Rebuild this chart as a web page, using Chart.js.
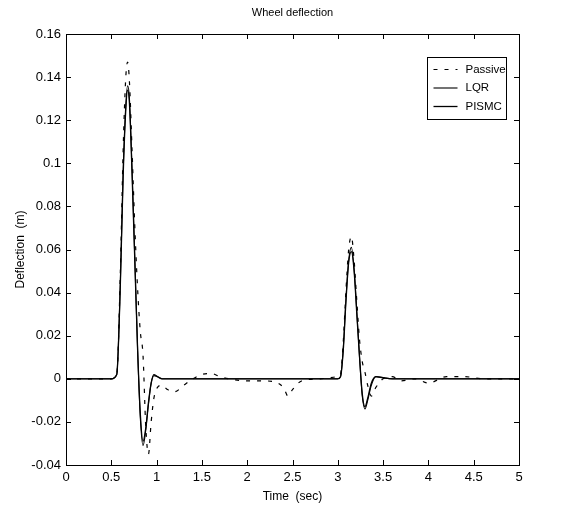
<!DOCTYPE html>
<html>
<head>
<meta charset="utf-8">
<script src="https://cdn.jsdelivr.net/npm/chart.js@4.4.0/dist/chart.umd.min.js"></script>
<style>
  html, body { margin: 0; padding: 0; background: #fff; }
  #wrap { width: 566px; height: 511px; }
</style>
</head>
<body>
<div id="wrap"><canvas id="grafico" width="566" height="511"></canvas></div>
<script>
// tempo (s)
var tempo = [0, 0.5, 0.56, 0.6, 0.63, 0.66, 0.68, 0.7, 0.73, 0.76, 0.79, 0.82, 0.85, 0.88, 0.91, 0.94, 0.97, 1.01, 1.06, 1.12,
  1.2, 1.3, 1.4, 1.5, 1.6, 1.7, 1.8, 2.0, 2.2, 2.4, 2.45, 2.5, 2.6, 2.8,
  3.0, 3.03, 3.06, 3.09, 3.12, 3.15, 3.18, 3.21, 3.24, 3.27, 3.3, 3.33, 3.37, 3.42, 3.5,
  3.6, 3.7, 3.85, 4.0, 4.2, 4.4, 4.6, 4.8, 5.0];

// deflexao da roda (m)
var passivo = [0, 0, 0.002, 0.05, 0.105, 0.14, 0.147, 0.138, 0.105, 0.07, 0.042, 0.022, 0.011, -0.022, -0.035, -0.02, -0.009, -0.004, -0.003, -0.005,
  -0.006, -0.003, 0, 0.002, 0.0025, 0.001, 0, -0.001, -0.001, -0.004, -0.008, -0.005, -0.001, 0,
  0.001, 0.002, 0.017, 0.041, 0.06, 0.066, 0.055, 0.036, 0.018, 0.008, 0.003, -0.003, -0.008, -0.004, 0,
  0.001, -0.001, 0, -0.002, 0.001, 0.001, 0, 0, 0];

var lqr = [0, 0, 0.002, 0.045, 0.095, 0.127, 0.136, 0.13, 0.096, 0.055, 0.014, -0.018, -0.031, -0.024, -0.012, -0.002, 0.002, 0.001, 0, 0,
  0, 0, 0, 0, 0, 0, 0, 0, 0, 0, 0, 0, 0, 0,
  0, 0.001, 0.014, 0.037, 0.055, 0.061, 0.051, 0.031, 0.01, -0.008, -0.014, -0.01, -0.003, 0.001, 0.0005,
  0, 0, 0, 0, 0, 0, 0, 0, 0];

var pismc = [0, 0, 0.002, 0.044, 0.093, 0.125, 0.134, 0.128, 0.094, 0.054, 0.014, -0.016, -0.029, -0.023, -0.011, -0.002, 0.0015, 0.001, 0, 0,
  0, 0, 0, 0, 0, 0, 0, 0, 0, 0, 0, 0, 0, 0,
  0, 0.001, 0.013, 0.036, 0.054, 0.059, 0.05, 0.03, 0.01, -0.007, -0.013, -0.009, -0.002, 0.001, 0.0005,
  0, 0, 0, 0, 0, 0, 0, 0, 0];

var nomes = ["Passive", "LQR", "PISMC"];
var titulo = "Wheel deflection";
var ticksX = [0, 0.5, 1, 1.5, 2, 2.5, 3, 3.5, 4, 4.5, 5];
var ticksY = [-0.04, -0.02, 0, 0.02, 0.04, 0.06, 0.08, 0.1, 0.12, 0.14, 0.16];

function pontos(serie) {
  var lista = [];
  for (var n = 0; n < tempo.length; n++) {
    lista.push({ x: tempo[n], y: serie[n] });
  }
  return lista;
}

var fonte = "'Liberation Sans', Arial, Helvetica, sans-serif";

// moldura, ticks para dentro, titulo e legenda dentro do grafico (estilo matlab)
var estiloMatlab = {
  id: "estiloMatlab",
  afterDatasetsDraw: function (chart) {
    var ctx = chart.ctx;
    var a = chart.chartArea;
    var sx = chart.scales.x, sy = chart.scales.y;
    ctx.save();
    ctx.strokeStyle = "#000";
    ctx.lineWidth = 1;
    ctx.strokeRect(Math.round(a.left) + 0.5, Math.round(a.top) + 0.5, Math.round(a.right - a.left), Math.round(a.bottom - a.top));
    ctx.beginPath();
    sx.ticks.forEach(function (t) {
      var px = Math.round(sx.getPixelForValue(t.value)) + 0.5;
      ctx.moveTo(px, a.bottom); ctx.lineTo(px, a.bottom - 5);
      ctx.moveTo(px, a.top); ctx.lineTo(px, a.top + 5);
    });
    sy.ticks.forEach(function (t) {
      var py = Math.round(sy.getPixelForValue(t.value)) + 0.5;
      ctx.moveTo(a.left, py); ctx.lineTo(a.left + 5, py);
      ctx.moveTo(a.right, py); ctx.lineTo(a.right - 5, py);
    });
    ctx.stroke();

    // titulo
    ctx.fillStyle = "#000";
    ctx.font = "11px " + fonte;
    ctx.textAlign = "center";
    ctx.textBaseline = "middle";
    ctx.fillText(titulo, (a.left + a.right) / 2, 13);

    // legenda
    var bx = Math.round(a.right) - 91.5, by = Math.round(a.top) + 23.5, bw = 79, bh = 62;
    ctx.fillStyle = "#fff";
    ctx.fillRect(bx, by, bw, bh);
    ctx.strokeRect(bx, by, bw, bh);
    ctx.font = "11.5px " + fonte;
    ctx.textAlign = "left";
    chart.data.datasets.forEach(function (ds, i) {
      var ly = by + 12 + i * 18.5;
      ctx.beginPath();
      ctx.setLineDash(ds.borderDash || []);
      ctx.lineWidth = ds.borderWidth;
      ctx.moveTo(bx + 6, ly); ctx.lineTo(bx + 30, ly);
      ctx.stroke();
      ctx.setLineDash([]);
      ctx.fillStyle = "#000";
      ctx.fillText(ds.label, bx + 38, ly);
    });
    ctx.restore();
  }
};

var ctx = document.getElementById("grafico").getContext("2d");
var meuGrafico = new Chart(ctx, {
  type: "line",
  data: {
    datasets: [
      { label: nomes[0], data: pontos(passivo), borderColor: "#000", borderWidth: 1.2, borderDash: [4, 7], pointRadius: 0, fill: false, cubicInterpolationMode: "monotone" },
      { label: nomes[1], data: pontos(lqr), borderColor: "#000", borderWidth: 1.1, pointRadius: 0, fill: false, cubicInterpolationMode: "monotone" },
      { label: nomes[2], data: pontos(pismc), borderColor: "#000", borderWidth: 1.3, pointRadius: 0, fill: false, cubicInterpolationMode: "monotone" },
    ],
  },
  options: {
    responsive: false,
    animation: false,
    layout: { padding: { left: 0, right: 47, top: 34, bottom: 0 } },
    plugins: {
      legend: { display: false },
      tooltip: { enabled: false },
      title: { display: false },
    },
    scales: {
      x: {
        type: "linear",
        min: 0,
        max: 5,
        afterBuildTicks: function (s) { s.ticks = ticksX.map(function (v) { return { value: v }; }); },
        afterFit: function (s) { s.height = 46; },
        grid: { display: false, drawTicks: false },
        border: { display: false },
        ticks: {
          color: "#000",
          padding: 5,
          maxRotation: 0,
          autoSkip: false,
          font: { family: fonte, size: 13 },
          callback: function (v) { return String(Number(v.toFixed(2))); },
        },
        title: {
          display: true,
          text: "Time  (sec)",
          color: "#000",
          font: { family: fonte, size: 12 },
          padding: { top: 0, bottom: 7 },
        },
      },
      y: {
        type: "linear",
        min: -0.04,
        max: 0.16,
        afterBuildTicks: function (s) { s.ticks = ticksY.map(function (v) { return { value: v }; }); },
        afterFit: function (s) { s.width = 66; },
        grid: { display: false, drawTicks: false },
        border: { display: false },
        ticks: {
          color: "#000",
          padding: 5,
          autoSkip: false,
          font: { family: fonte, size: 13 },
          callback: function (v) { return String(Number(v.toFixed(2))); },
        },
        title: {
          display: true,
          text: "Deflection  (m)",
          color: "#000",
          font: { family: fonte, size: 12 },
          padding: { top: 13, bottom: 0 },
        },
      },
    },
  },
  plugins: [estiloMatlab],
});
</script>
</body>
</html>
